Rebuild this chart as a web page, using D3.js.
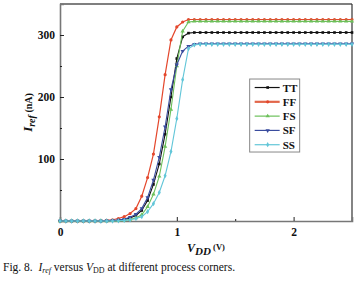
<!DOCTYPE html>
<html>
<head>
<meta charset="utf-8">
<script src="https://cdn.jsdelivr.net/npm/d3@7"></script>
<style>
  html, body { margin: 0; padding: 0; background: #fff; }
  #chart { width: 360px; height: 281px; }
  svg { display: block; font-family: "Liberation Serif", "Times New Roman", serif; }
</style>
</head>
<body>
<div id="chart"></div>
<script>
// V_DD sweep (V)
const vdd = [0, 0.05, 0.1, 0.15, 0.2, 0.25, 0.3, 0.35, 0.4, 0.45,
  0.5, 0.55, 0.6, 0.65, 0.7, 0.75, 0.8, 0.85, 0.9, 0.95,
  1.0, 1.05, 1.1, 1.15, 1.2, 1.25, 1.3, 1.35, 1.4, 1.45,
  1.5, 1.55, 1.6, 1.65, 1.7, 1.75, 1.8, 1.85, 1.9, 1.95,
  2.0, 2.05, 2.1, 2.15, 2.2, 2.25, 2.3, 2.35, 2.4, 2.45, 2.5];

// I_ref (nA) per process corner
const iTT = [0, 0, 0, 0, 0, 0, 0, 0, 0.2, 0.5,
  1, 2.5, 5, 9, 17, 33, 59, 92, 140, 200,
  262, 297, 303, 304, 304, 304, 304, 304, 304, 304,
  304, 304, 304, 304, 304, 304, 304, 304, 304, 304,
  304, 304, 304, 304, 304, 304, 304, 304, 304, 304, 304];
const iFF = [0, 0, 0, 0, 0, 0, 0, 0.5, 1, 2,
  4, 7, 12, 20, 40, 70, 108, 168, 236, 292,
  313, 321, 325, 325, 325, 325, 325, 325, 325, 325,
  325, 325, 325, 325, 325, 325, 325, 325, 325, 325,
  325, 325, 325, 325, 325, 325, 325, 325, 325, 325, 325];
const iFS = [0, 0, 0, 0, 0, 0, 0, 0, 0, 0.2,
  0.5, 1, 2.5, 5, 10, 23, 43, 72, 120, 180,
  250, 306, 321, 322, 322, 322, 322, 322, 322, 322,
  322, 322, 322, 322, 322, 322, 322, 322, 322, 322,
  322, 322, 322, 322, 322, 322, 322, 322, 322, 322, 322];
const iSF = [0, 0, 0, 0, 0, 0, 0, 0, 0.3, 0.8,
  1.5, 3, 6, 11, 20, 38, 66, 103, 152, 212,
  252, 274, 282, 285, 286, 286, 286, 286, 286, 286,
  286, 286, 286, 286, 286, 286, 286, 286, 286, 286,
  286, 286, 286, 286, 286, 286, 286, 286, 286, 286, 286];
const iSS = [0, 0, 0, 0, 0, 0, 0, 0, 0, 0,
  0.3, 1, 2, 4, 7, 15, 28, 46, 73, 112,
  165, 228, 278, 284, 285, 285, 285, 285, 285, 285,
  285, 285, 285, 285, 285, 285, 285, 285, 285, 285,
  285, 285, 285, 285, 285, 285, 285, 285, 285, 285, 285];

const corners = ['TT', 'FF', 'FS', 'SF', 'SS'];
const xTicks = [0, 1, 2];
const xMinor = [0.5, 1.5];
const yTicks = [100, 200, 300];
const yMinor = [50, 150, 250];

(function () {
  const W = 360, H = 281;
  const margin = { top: 4, right: 8, bottom: 60, left: 60 };
  const iw = W - margin.left - margin.right;
  const ih = H - margin.top - margin.bottom;

  const series = [
    { id: 'TT', values: iTT, color: '#111111', width: 1.1, sym: d3.symbolSquare, size: 7 },
    { id: 'FF', values: iFF, color: '#e4472c', width: 1.2, sym: d3.symbolCircle, size: 8 },
    { id: 'FS', values: iFS, color: '#6cc05a', width: 1.1, sym: d3.symbolTriangle, size: 8 },
    { id: 'SF', values: iSF, color: '#3a4c9e', width: 1.1, sym: d3.symbolTriangle, size: 8, flip: true },
    { id: 'SS', values: iSS, color: '#62c6d8', width: 1.1, sym: d3.symbolDiamond, size: 8 }
  ];

  const svg = d3.select('#chart').append('svg')
    .attr('width', W).attr('height', H)
    .attr('viewBox', `0 0 ${W} ${H}`);
  const g = svg.append('g').attr('transform', `translate(${margin.left},${margin.top})`);

  const x = d3.scaleLinear().domain([0, 2.5]).range([0, iw]);
  const y = d3.scaleLinear().domain([0, 350]).range([ih, 0]);

  // frame: top and right
  g.append('line').attr('x1', 0).attr('x2', iw).attr('y1', 0).attr('y2', 0)
    .attr('stroke', '#000').attr('stroke-width', 1.2);
  g.append('line').attr('x1', iw).attr('x2', iw).attr('y1', 0).attr('y2', ih)
    .attr('stroke', '#333').attr('stroke-width', 1.2);

  // x axis
  const gx = g.append('g').attr('transform', `translate(0,${ih})`)
    .call(d3.axisBottom(x).tickValues(xTicks).tickSize(-4).tickPadding(7).tickFormat(d3.format('d')));
  g.append('g').attr('transform', `translate(0,${ih})`)
    .call(d3.axisBottom(x).tickValues(xMinor).tickSize(-2).tickFormat(''))
    .call(a => a.select('.domain').remove());

  // y axis
  const gy = g.append('g')
    .call(d3.axisLeft(y).tickValues(yTicks).tickSize(-4).tickPadding(5));
  g.append('g')
    .call(d3.axisLeft(y).tickValues(yMinor).tickSize(-2).tickFormat(''))
    .call(a => a.select('.domain').remove());

  g.selectAll('.domain').attr('stroke', '#777').attr('stroke-width', 1.6);
  g.selectAll('.tick line').attr('stroke', '#222').attr('stroke-width', 1);
  [gx, gy].forEach(a => a.selectAll('text')
    .attr('font-family', '"Liberation Serif", serif')
    .attr('font-size', 11.5).attr('font-weight', 'bold').attr('fill', '#111'));

  // lines + markers
  const line = d3.line().x((d, i) => x(vdd[i])).y(d => y(d));
  const linesG = g.append('g');
  series.forEach(s => {
    linesG.append('path').datum(s.values)
      .attr('fill', 'none').attr('stroke', s.color)
      .attr('stroke-width', s.width).attr('d', line);
    const shape = d3.symbol().type(s.sym).size(s.size);
    linesG.append('g').selectAll('path').data(s.values).join('path')
      .attr('d', shape)
      .attr('fill', s.color)
      .attr('transform', (d, i) => `translate(${x(vdd[i])},${y(d)})${s.flip ? ' rotate(180)' : ''}`);
  });

  // legend
  const lg = g.append('g').attr('transform', `translate(${x(1.6239)},${y(229)})`);
  lg.append('rect').attr('x', 0).attr('y', 0).attr('width', 50).attr('height', 73)
    .attr('fill', '#fff').attr('stroke', '#888').attr('stroke-width', 1);
  const row = lg.selectAll('g.row').data(series).join('g')
    .attr('class', 'row')
    .attr('transform', (d, i) => `translate(0,${8.5 + i * 14.3})`);
  row.append('line').attr('x1', 5).attr('x2', 30).attr('y1', 0).attr('y2', 0)
    .attr('stroke', d => d.id === 'FF' ? '#e2664a' : d.color)
    .attr('stroke-width', d => d.id === 'FF' ? 2.2 : 1.2);
  row.append('path')
    .attr('d', d => d3.symbol().type(d.sym).size(d.size)())
    .attr('fill', d => d.color)
    .attr('transform', d => `translate(18,0)${d.flip ? ' rotate(180)' : ''}`);
  row.append('text').attr('x', 33).attr('y', 4)
    .attr('font-size', 11).attr('font-weight', 'bold').attr('fill', '#111')
    .text(d => d.id);

  // axis titles
  const yt = svg.append('text')
    .attr('transform', `translate(32,${margin.top + ih / 2}) rotate(-90)`)
    .attr('text-anchor', 'middle').attr('font-weight', 'bold').attr('fill', '#111');
  yt.append('tspan').attr('font-style', 'italic').attr('font-size', 13).text('I');
  yt.append('tspan').attr('font-style', 'italic').attr('font-size', 10).attr('dy', 3).text('ref');
  yt.append('tspan').attr('font-size', 10).attr('dy', -3).text(' (nA)');

  const xt = svg.append('text')
    .attr('x', margin.left + iw / 2).attr('y', 252)
    .attr('text-anchor', 'middle').attr('font-weight', 'bold').attr('fill', '#111');
  xt.append('tspan').attr('font-style', 'italic').attr('font-size', 12).text('V');
  xt.append('tspan').attr('font-style', 'italic').attr('font-size', 11).attr('dy', 3).text('DD');
  xt.append('tspan').attr('font-size', 8.5).attr('dy', -5).text(' (V)');

  // caption
  const cap = svg.append('text').attr('x', 3).attr('y', 271)
    .attr('font-size', 11.5).attr('fill', '#111');
  cap.append('tspan').text('Fig. 8.\u00a0\u00a0');
  cap.append('tspan').attr('font-style', 'italic').text('I');
  cap.append('tspan').attr('font-style', 'italic').attr('font-size', 8).attr('dy', 2).text('ref');
  cap.append('tspan').attr('dy', -2).text(' versus ');
  cap.append('tspan').attr('font-style', 'italic').text('V');
  cap.append('tspan').attr('font-size', 8).attr('dy', 2).text('DD');
  cap.append('tspan').attr('dy', -2).text(' at different process corners.');
})();
</script>
</body>
</html>
